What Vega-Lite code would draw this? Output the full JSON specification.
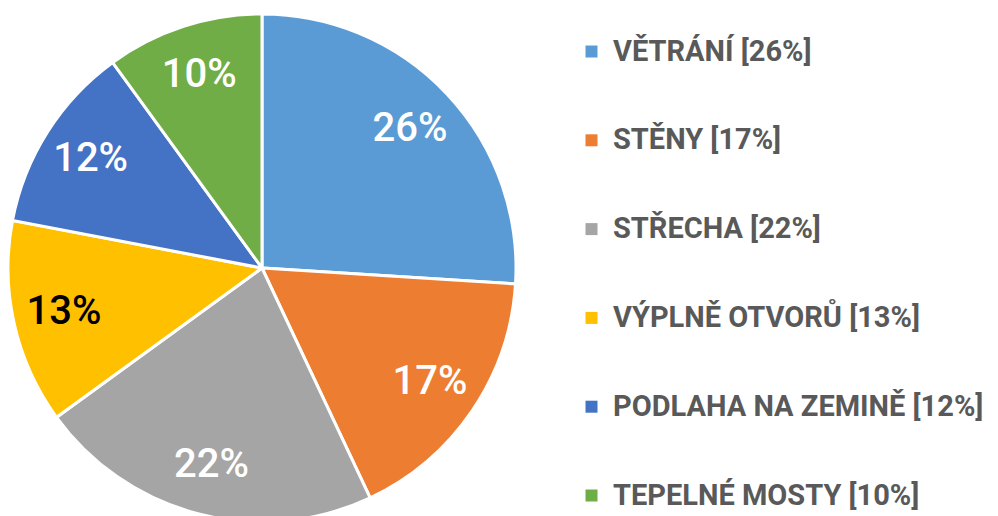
{
  "$schema": "https://vega.github.io/schema/vega-lite/v6.json",
  "width": 524,
  "height": 536,
  "padding": 0,
  "background": "white",
  "data": {
    "values": [
      {"order": 1, "label": "VĚTRÁNÍ [26%]", "pct": "26%", "value": 26},
      {"order": 2, "label": "STĚNY [17%]", "pct": "17%", "value": 17},
      {"order": 3, "label": "STŘECHA [22%]", "pct": "22%", "value": 22},
      {"order": 4, "label": "VÝPLNĚ OTVORŮ [13%]", "pct": "13%", "value": 13},
      {"order": 5, "label": "PODLAHA NA ZEMINĚ [12%]", "pct": "12%", "value": 12},
      {"order": 6, "label": "TEPELNÉ MOSTY [10%]", "pct": "10%", "value": 10}
    ]
  },
  "encoding": {
    "theta": {"field": "value", "type": "quantitative", "stack": true},
    "order": {"field": "order", "type": "quantitative"}
  },
  "layer": [
    {
      "mark": {"type": "arc", "outerRadius": 254, "stroke": "white", "strokeWidth": 3},
      "encoding": {
        "color": {
          "field": "label",
          "type": "nominal",
          "scale": {
            "domain": ["VĚTRÁNÍ [26%]", "STĚNY [17%]", "STŘECHA [22%]", "VÝPLNĚ OTVORŮ [13%]", "PODLAHA NA ZEMINĚ [12%]", "TEPELNÉ MOSTY [10%]"],
            "range": ["#5B9BD5", "#ED7D31", "#A5A5A5", "#FFC000", "#4472C4", "#70AD47"]
          },
          "legend": {
            "orient": "none",
            "legendX": 577,
            "legendY": 37,
            "title": null,
            "symbolType": "square",
            "symbolSize": 144,
            "symbolStrokeWidth": 0,
            "labelFont": "Roboto",
            "labelFontWeight": "bold",
            "labelFontSize": 29,
            "labelColor": "#595959",
            "labelLimit": 500,
            "labelOffset": 7,
            "rowPadding": 58.8
          }
        }
      }
    },
    {
      "mark": {"type": "text", "radius": 203, "font": "Roboto", "fontSize": 40, "fontWeight": 500, "baseline": "middle", "align": "center"},
      "encoding": {
        "text": {"field": "pct", "type": "nominal"},
        "color": {
          "condition": {"test": "datum.pct === '13%'", "value": "black"},
          "value": "white"
        }
      }
    }
  ],
  "config": {"view": {"stroke": null}}
}
